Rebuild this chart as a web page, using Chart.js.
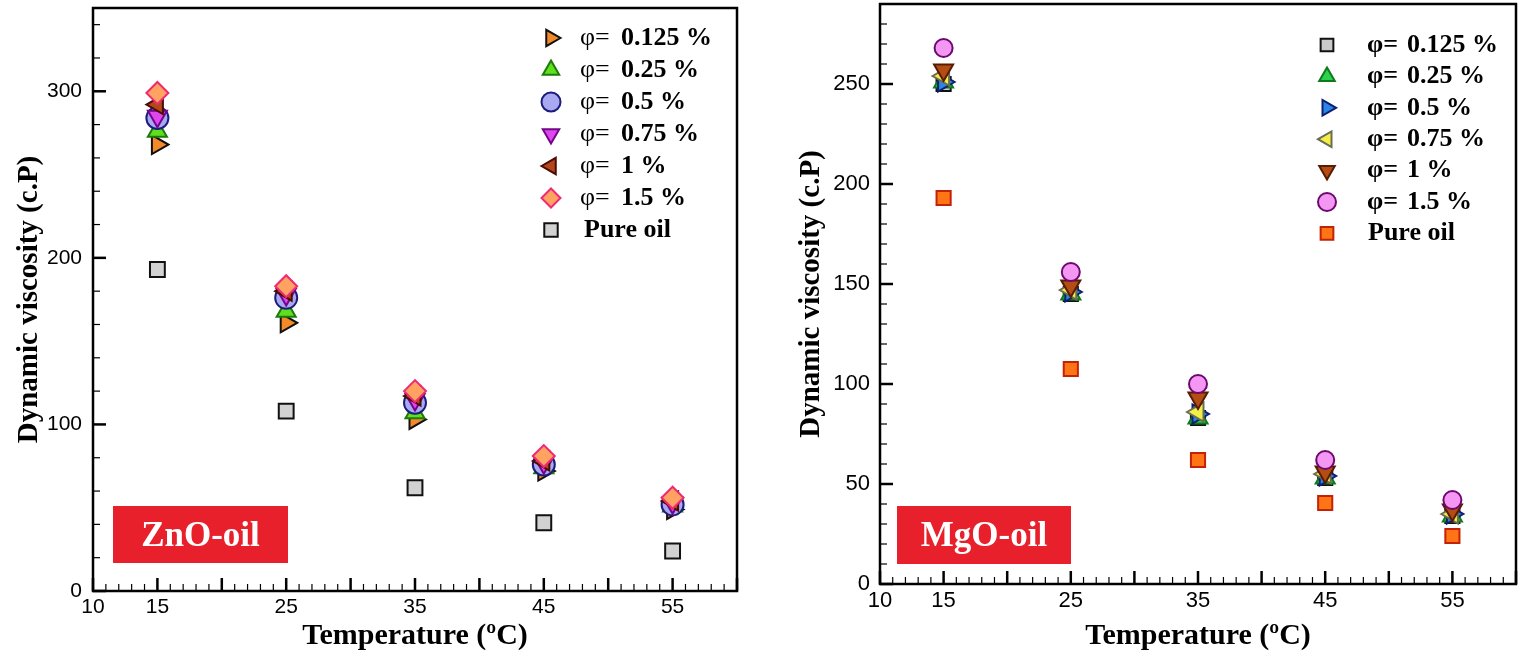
<!DOCTYPE html>
<html>
<head>
<meta charset="utf-8">
<script src="https://cdn.jsdelivr.net/npm/chart.js@4.4.0/dist/chart.umd.min.js"></script>
<style>
  html, body { margin: 0; padding: 0; background: #fff; }
  #wrap { position: relative; width: 1527px; height: 657px; overflow: hidden; }
  canvas { position: absolute; top: 0; }
  #zno { left: 0; }
  #mgo { left: 770px; }
</style>
</head>
<body>
<div id="wrap">
  <canvas id="zno" width="770" height="657"></canvas>
  <canvas id="mgo" width="757" height="657"></canvas>
</div>
<script>
// temperatures (°C) and axis labels
const temps = [15, 25, 35, 45, 55]
const xTickLabels = [10, 15, 25, 35, 45, 55]
const znoYTicks = [0, 100, 200, 300]
const mgoYTicks = [0, 50, 100, 150, 200, 250]
const seriesNames = ['0.125 %', '0.25 %', '0.5 %', '0.75 %', '1 %', '1.5 %', 'Pure oil']

// ZnO-oil, dynamic viscosity (c.P)
const zno0125 = [268, 161, 103, 72, 49]
const zno025  = [276, 168, 107, 74, 51]
const zno05   = [284, 176, 113, 76, 52]
const zno075  = [285, 178, 115, 77, 53]
const zno1    = [292, 180, 117, 78, 54]
const zno15   = [299, 183, 120, 81, 56]
const znoPure = [193, 108, 62, 41, 24]

// MgO-oil, dynamic viscosity (c.P)
const mgo0125 = [250, 145, 83, 53, 34]
const mgo025  = [251, 145, 83, 53, 34]
const mgo05   = [251, 146, 85, 54, 35]
const mgo075  = [254, 147, 86, 55, 35]
const mgo1    = [257, 149, 93, 56, 37]
const mgo15   = [268, 156, 100, 62, 42]
const mgoPure = [193, 107.5, 62, 40.5, 24]

const SERIF = "'Liberation Serif', 'Times New Roman', serif"
const SANS = "'Liberation Sans', Arial, sans-serif"
Chart.defaults.color = '#000'

const pts = vals => vals.map((v, i) => ({ x: temps[i], y: v }))

// marker styles, same order as seriesNames
const znoStyles = [
  { pointStyle: 'triangle', rotation: 90,  radius: 11, backgroundColor: '#f28a2a', borderColor: '#111' },
  { pointStyle: 'triangle', rotation: 0,   radius: 11, backgroundColor: '#5fe01c', borderColor: '#1d7a0c' },
  { pointStyle: 'circle',   rotation: 0,   radius: 11, backgroundColor: '#a9a9f2', borderColor: '#1c1c7c' },
  { pointStyle: 'triangle', rotation: 180, radius: 11, backgroundColor: '#e046ee', borderColor: '#72068a' },
  { pointStyle: 'triangle', rotation: -90, radius: 11, backgroundColor: '#b4461a', borderColor: '#4a0c04' },
  { pointStyle: 'rectRot',  rotation: 0,   radius: 11, backgroundColor: '#ffa262', borderColor: '#ee2a72' },
  { pointStyle: 'rect',     rotation: 0,   radius: 10.5, backgroundColor: '#d2d2d2', borderColor: '#111' }
]
const mgoStyles = [
  { pointStyle: 'rect',     rotation: 0,   radius: 10, backgroundColor: '#c9c9c9', borderColor: '#111' },
  { pointStyle: 'triangle', rotation: 0,   radius: 11, backgroundColor: '#2fd04e', borderColor: '#0e7a1e' },
  { pointStyle: 'triangle', rotation: 90,  radius: 11, backgroundColor: '#2a86e6', borderColor: '#0e1f6e' },
  { pointStyle: 'triangle', rotation: -90, radius: 11, backgroundColor: '#f2f048', borderColor: '#6c6c52' },
  { pointStyle: 'triangle', rotation: 180, radius: 11, backgroundColor: '#b44c14', borderColor: '#561c04' },
  { pointStyle: 'circle',   rotation: 0,   radius: 9,  backgroundColor: '#f397f3', borderColor: '#6e0870' },
  { pointStyle: 'rect',     rotation: 0,   radius: 10, backgroundColor: '#ff7414', borderColor: '#c42208' }
]

function makeDatasets(series, styles) {
  return series.map((vals, i) => ({
    label: seriesNames[i],
    data: pts(vals),
    pointStyle: styles[i].pointStyle,
    rotation: styles[i].rotation,
    radius: styles[i].radius,
    hoverRadius: styles[i].radius,
    backgroundColor: styles[i].backgroundColor,
    borderColor: styles[i].borderColor,
    borderWidth: 2,
    order: -i  // later series on top
  }))
}

// box + inward ticks on left and bottom axes
const frameTicks = {
  id: 'frameTicks',
  afterDatasetsDraw(chart, args, o) {
    const { ctx, chartArea: a } = chart
    const xs = chart.scales.x, ys = chart.scales.y
    ctx.save()
    ctx.strokeStyle = '#000'
    const isMajor = (v, step) => Math.abs(v / step - Math.round(v / step)) < 1e-6
    for (let v = xs.min; v <= xs.max + 1e-9; v += o.xMinor) {
      const major = isMajor(v, o.xMajor)
      const px = xs.getPixelForValue(v)
      ctx.lineWidth = major ? 2.5 : 1.2
      ctx.beginPath()
      ctx.moveTo(px, a.bottom)
      ctx.lineTo(px, a.bottom - (major ? 13 : 7))
      ctx.stroke()
    }
    for (let v = ys.min; v <= ys.max + 1e-9; v += o.yMinor) {
      const major = isMajor(v, o.yMajor)
      const py = ys.getPixelForValue(v)
      ctx.lineWidth = major ? 2.5 : 1.2
      ctx.beginPath()
      ctx.moveTo(a.left, py)
      ctx.lineTo(a.left + (major ? 13 : 7), py)
      ctx.stroke()
    }
    ctx.lineWidth = 2.5
    ctx.strokeRect(a.left, a.top, a.right - a.left, a.bottom - a.top)
    ctx.restore()
  }
}

// red name badge in lower left of plot
const badge = {
  id: 'badge',
  afterDatasetsDraw(chart, args, o) {
    const { ctx, chartArea: a } = chart
    const x = a.left + o.dx, y = a.bottom - o.dy
    ctx.save()
    ctx.fillStyle = '#e8202c'
    ctx.fillRect(x, y, o.w, o.h)
    ctx.fillStyle = '#fff'
    ctx.font = 'bold 35px ' + SERIF
    ctx.textAlign = 'center'
    ctx.textBaseline = 'middle'
    ctx.fillText(o.text, x + o.w / 2, y + o.h / 2 + 2)
    ctx.restore()
  }
}

// legend drawn inside plot, top right
const markerLegend = {
  id: 'markerLegend',
  afterDatasetsDraw(chart, args, o) {
    const { ctx, chartArea: a } = chart
    const mx = a.right - o.fromRight
    ctx.save()
    ctx.textBaseline = 'middle'
    ctx.textAlign = 'left'
    chart.data.datasets.forEach((ds, i) => {
      const y = a.top + o.top + i * o.rowH
      ctx.fillStyle = ds.backgroundColor
      ctx.strokeStyle = ds.borderColor
      ctx.lineWidth = 2
      Chart.helpers.drawPoint(ctx, { pointStyle: ds.pointStyle, rotation: ds.rotation, radius: o.radius, borderWidth: 2 }, mx, y)
      ctx.fillStyle = '#000'
      if (ds.label === 'Pure oil') {
        ctx.font = 'bold ' + o.size + 'px ' + SERIF
        ctx.fillText(ds.label, mx + o.pureGap, y)
      } else {
        ctx.font = (o.phiBold ? 'bold ' : '') + o.size + 'px ' + SERIF
        ctx.fillText('φ=', mx + o.phiGap, y)
        ctx.font = 'bold ' + o.size + 'px ' + SERIF
        ctx.fillText(ds.label, mx + o.valGap, y)
      }
    })
    ctx.restore()
  }
}

function makeChart(id, datasets, cfg) {
  return new Chart(document.getElementById(id), {
    type: 'scatter',
    data: { datasets },
    options: {
      responsive: false,
      animation: false,
      events: [],
      layout: { padding: cfg.padding, autoPadding: false },
      plugins: {
        legend: { display: false },
        tooltip: { enabled: false },
        frameTicks: cfg.ticks,
        badge: cfg.badge,
        markerLegend: cfg.legend
      },
      scales: {
        x: {
          type: 'linear', min: 10, max: 60,
          grid: { display: false, drawTicks: false },
          border: { display: false },
          afterBuildTicks: s => { s.ticks = xTickLabels.map(v => ({ value: v })) },
          afterFit: s => { s.height = cfg.xHeight; s.paddingLeft = 0; s.paddingRight = 0 },
          ticks: { padding: 4, font: { family: SANS, size: cfg.tickSize }, maxRotation: 0, autoSkip: false },
          title: { display: true, text: 'Temperature (ºC)', font: { family: SERIF, size: 30, weight: 'bold', lineHeight: 1 }, padding: { top: 0, bottom: 6 } }
        },
        y: {
          type: 'linear', min: 0, max: cfg.yMax,
          grid: { display: false, drawTicks: false },
          border: { display: false },
          afterBuildTicks: s => { s.ticks = cfg.yTicks.map(v => ({ value: v })) },
          afterFit: s => { s.width = cfg.yWidth; s.paddingTop = 0; s.paddingBottom = 0 },
          ticks: { padding: cfg.yTickPad, font: { family: SANS, size: cfg.tickSize } },
          title: { display: true, text: 'Dynamic viscosity (c.P)', font: { family: SERIF, size: 29, weight: 'bold', lineHeight: 1 }, padding: { top: cfg.yTitlePad, bottom: 0 } }
        }
      }
    },
    plugins: [frameTicks, badge, markerLegend]
  })
}

makeChart('zno', makeDatasets([zno0125, zno025, zno05, zno075, zno1, zno15, znoPure], znoStyles), {
  padding: { top: 8, right: 33, bottom: 0, left: 0 },
  xHeight: 66, yWidth: 93, yMax: 350, yTicks: znoYTicks,
  tickSize: 21, yTickPad: 11, yTitlePad: 15,
  ticks: { xMinor: 1, xMajor: 5, yMinor: 20, yMajor: 100 },
  badge: { text: 'ZnO-oil', dx: 20, dy: 85, w: 175, h: 57 },
  legend: { fromRight: 186, top: 30, rowH: 32, radius: 9.5, size: 26, phiGap: 29, valGap: 70, pureGap: 33, phiBold: false }
})

makeChart('mgo', makeDatasets([mgo0125, mgo025, mgo05, mgo075, mgo1, mgo15, mgoPure], mgoStyles), {
  padding: { top: 4, right: 11, bottom: 0, left: 0 },
  xHeight: 73, yWidth: 110, yMax: 290, yTicks: mgoYTicks,
  tickSize: 22, yTickPad: 10, yTitlePad: 27,
  ticks: { xMinor: 1, xMajor: 5, yMinor: 10, yMajor: 50 },
  badge: { text: 'MgO-oil', dx: 17, dy: 78, w: 174, h: 58 },
  legend: { fromRight: 189, top: 41, rowH: 31.4, radius: 9, size: 26, phiGap: 40, valGap: 80, pureGap: 41, phiBold: true }
})
</script>
</body>
</html>
